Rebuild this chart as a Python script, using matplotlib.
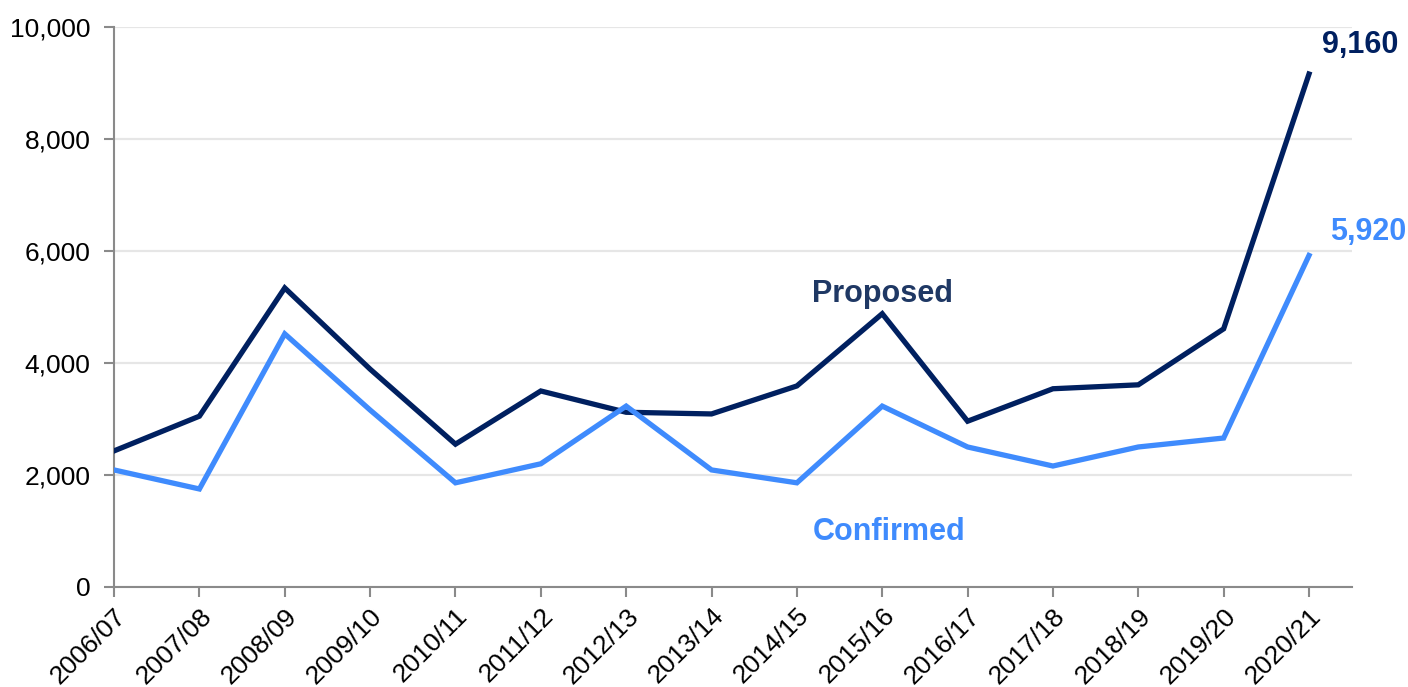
import matplotlib.pyplot as plt
from matplotlib.ticker import FuncFormatter

plt.rcParams['font.family'] = ['Liberation Sans', 'DejaVu Sans']

# 数据
years = ["2006/07", "2007/08", "2008/09", "2009/10", "2010/11", "2011/12", "2012/13",
         "2013/14", "2014/15", "2015/16", "2016/17", "2017/18", "2018/19", "2019/20", "2020/21"]
proposed = [2430, 3050, 5340, 3890, 2550, 3500, 3120, 3090, 3590, 4880, 2960, 3540, 3610, 4610, 9160]
confirmed = [2090, 1750, 4520, 3160, 1860, 2200, 3230, 2090, 1860, 3230, 2500, 2160, 2500, 2660, 5920]

c_prop = '#002060'
c_conf = '#3f8bfd'
c_axis = '#8a8a8a'

fig = plt.figure(figsize=(14.08, 6.87), dpi=100)
ax = fig.add_axes([0.081, 0.1456, 0.879, 0.8151])

x = list(range(len(years)))
ax.plot(x, proposed, color=c_prop, lw=3.8, solid_joinstyle='miter', zorder=3)
ax.plot(x, confirmed, color=c_conf, lw=3.8, solid_joinstyle='miter', zorder=3)

ax.set_xlim(0, 14.5)
ax.set_ylim(0, 10000)
ax.set_yticks(range(0, 10001, 2000))
ax.yaxis.set_major_formatter(FuncFormatter(lambda v, p: f"{int(v):,}"))
ax.set_xticks(x)
ax.set_xticklabels(years, rotation=45, ha='right', rotation_mode='anchor')
ax.tick_params(axis='both', labelsize=19, colors=c_axis, labelcolor='black',
               length=7, width=1.5)
ax.tick_params(axis='y', pad=10)
ax.tick_params(axis='x', pad=5)

ax.grid(axis='y', color='#e6e6e6', lw=1.6, zorder=0)
for s in ['top', 'right']:
    ax.spines[s].set_visible(False)
for s in ['left', 'bottom']:
    ax.spines[s].set_color(c_axis)
    ax.spines[s].set_linewidth(1.5)

# 标注
ax.text(9.0, 5230, "Proposed", color='#1f3864', fontsize=22, fontweight='bold',
        ha='center', va='center')
ax.text(9.08, 980, "Confirmed", color=c_conf, fontsize=22, fontweight='bold',
        ha='center', va='center')
ax.text(14.15, 9680, f"{proposed[-1]:,}", color=c_prop, fontsize=22, fontweight='bold',
        ha='left', va='center', clip_on=False)
ax.text(14.25, 6340, f"{confirmed[-1]:,}", color=c_conf, fontsize=22, fontweight='bold',
        ha='left', va='center', clip_on=False)

plt.savefig("out.png", dpi=100)
